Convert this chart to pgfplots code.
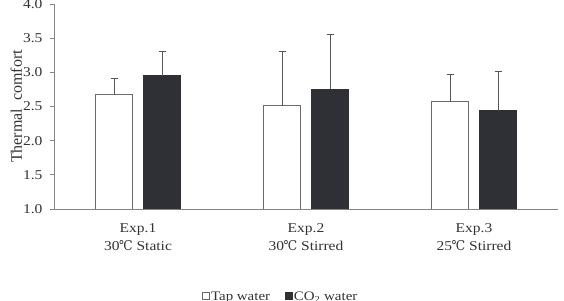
\documentclass[border=0pt]{standalone}
\usepackage{pgfplots}
\pgfplotsset{compat=1.18}
\usepackage{fontspec}
\setmainfont{Liberation Serif}[FakeStretch=1.15]
\newfontfamily\labelfont{Liberation Serif}
\newfontfamily\symfont{DejaVu Serif}[FakeStretch=0.9]
\newcommand{\degC}{{\symfont\kern-0.5pt ℃}}

\definecolor{barblack}{HTML}{2E3036}
\definecolor{edgegray}{HTML}{6A6A6A}
\definecolor{axisgray}{HTML}{858585}
\definecolor{errgray}{HTML}{555555}
\definecolor{textgray}{HTML}{333333}

\begin{document}
\begin{tikzpicture}
\begin{axis}[
  name=ax,
  scale only axis,
  width=504pt, height=205pt,
  xmin=-0.5, xmax=2.5,
  ymin=1, ymax=4,
  ybar,
  axis lines*=left,
  axis line style={draw=axisgray, line width=0.8pt},
  xtick={0,1,2},
  xticklabels={{Exp.1\\30\degC\ Static},{Exp.2\\30\degC\ Stirred},{Exp.3\\25\degC\ Stirred}},
  xtick style={draw=none},
  xticklabel style={align=center, font=\fontsize{13.5}{18}\selectfont, text=textgray, yshift=-7pt},
  ytick={1,1.5,...,4},
  tick align=outside,
  major tick length=4pt,
  ytick style={draw=axisgray, line width=0.8pt},
  /pgf/number format/fixed,
  /pgf/number format/fixed zerofill,
  /pgf/number format/precision=1,
  /pgf/number format/assume math mode=true,
  yticklabel style={font=\fontsize{13.5}{15}\selectfont, text=textgray, xshift=-4pt},
  ylabel={Thermal\ \ comfort},
  ylabel style={at={(axis description cs:-0.075,0.5)}, anchor=center,
    font=\labelfont\fontsize{16}{18}\selectfont, text=textgray},
  legend style={at={(0.449,-0.43)}, anchor=center, draw=none, fill=none,
    legend columns=2, font=\fontsize{13}{15}\selectfont, text=textgray,
    nodes={inner xsep=1.5pt},
    /tikz/every even column/.append style={column sep=13pt},
    /tikz/every odd column/.append style={column sep=0pt},
    legend cell align=left},
  legend image code/.code={\draw[#1] (0pt,-2.5pt) rectangle (7pt,4.5pt);},
  error bars/y dir=plus,
  error bars/y explicit,
  error bars/error mark=-,
  error bars/error bar style={draw=errgray, line width=0.8pt},
  error bars/error mark options={draw=errgray, line width=0.8pt, mark size=3.5pt, rotate=90},
]
% Tap water
\addplot[fill=white, draw=edgegray, line width=0.8pt, bar width=37pt, bar shift=-24pt]
  coordinates {(0,2.67) +- (0,0.24) (1,2.51) +- (0,0.80) (2,2.57) +- (0,0.40)};
% CO2 water
\addplot[fill=barblack, draw=barblack, line width=0.8pt, bar width=37pt, bar shift=24pt]
  coordinates {(0,2.95) +- (0,0.36) (1,2.75) +- (0,0.81) (2,2.44) +- (0,0.58)};
\legend{Tap water, CO\textsubscript{2} water}
\end{axis}
\pgfresetboundingbox
\useasboundingbox ([xshift=-54pt,yshift=-92pt]ax.south west) rectangle ([xshift=6pt,yshift=4pt]ax.north east);
\end{tikzpicture}
\end{document}
